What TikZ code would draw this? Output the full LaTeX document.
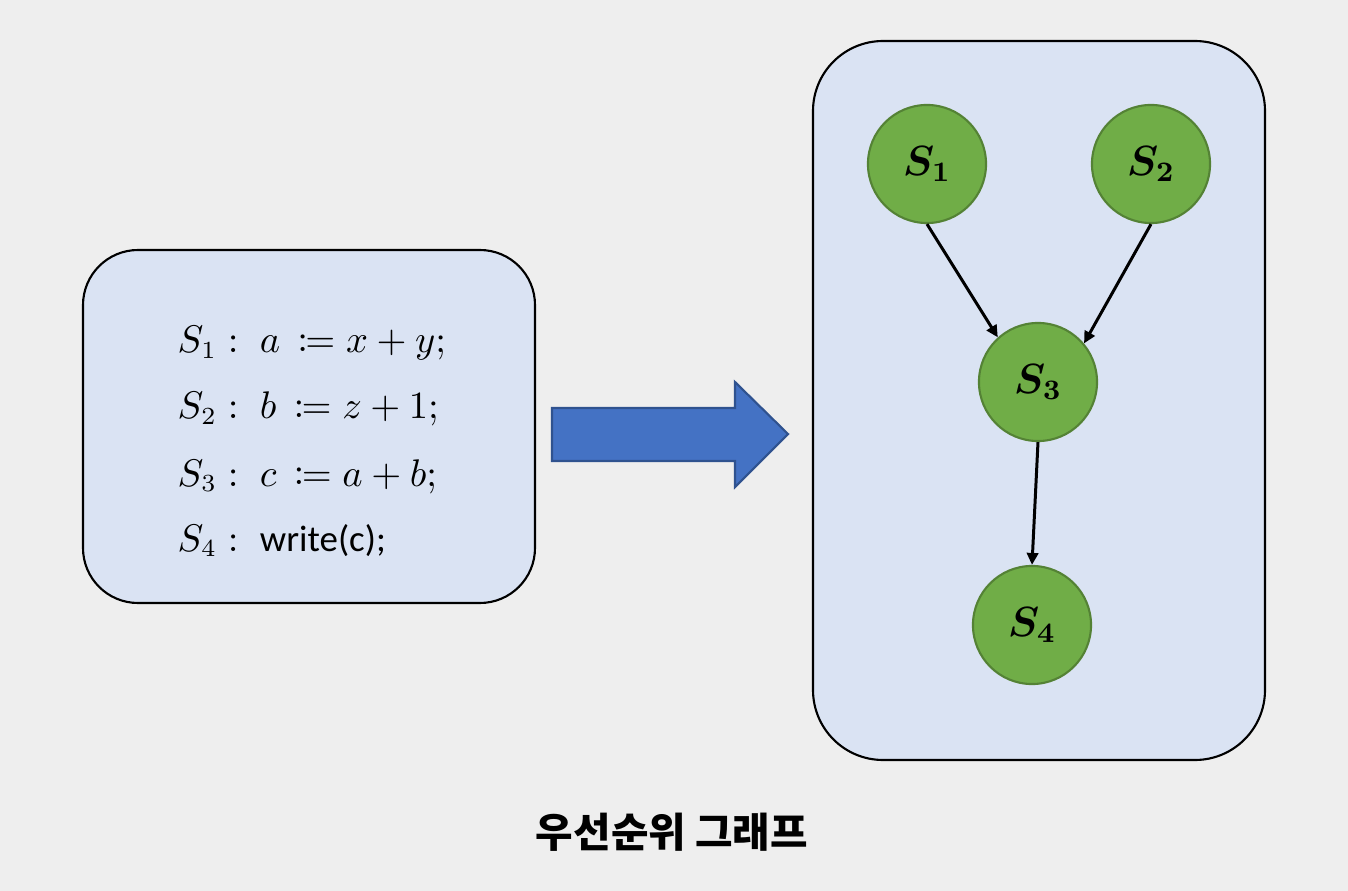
\documentclass[tikz,border=0pt]{standalone}
\usepackage{amsmath}
\usepackage{amssymb}
\usepackage{xcolor}
\usepackage{mathtools}
\usepackage{fontspec}
\setsansfont{Carlito}
\newfontfamily\krfont{Noto Sans CJK KR}
\usepackage{tikz}
\usetikzlibrary{arrows.meta}
\definecolor{bggray}{HTML}{EEEEEE}
\definecolor{panelblue}{HTML}{DAE3F3}
\definecolor{stgreen}{HTML}{70AD47}
\definecolor{stgreenedge}{HTML}{548235}
\definecolor{bigarrow}{HTML}{4472C4}
\definecolor{bigarrowedge}{HTML}{2F528F}
\tikzset{
  panel/.style={draw=black, fill=panelblue, line width=0.6pt},
  stnode/.style={circle, fill=stgreen, draw=stgreenedge, line width=0.6pt, minimum size=1.18cm, inner sep=0pt, font=\fontsize{12}{14}\selectfont},
  stline/.style={anchor=base west, inner sep=0pt, font=\fontsize{10.5}{12}\selectfont},
  dep/.style={line width=0.85pt, -{Triangle[length=3.4pt, width=3.2pt]}}
}

\begin{document}
\begin{tikzpicture}[x=0.01cm, y=-0.01cm]
  \fill[bggray] (0,0) rectangle (1348,891);
  \draw[panel, rounded corners=0.55cm] (83,250) rectangle (535,603);
  \draw[panel, rounded corners=0.7cm] (813,41) rectangle (1265,760);
  \node[stline] (l1) at (177,353) {$S_1\;{:}\;\; a\,\coloneqq x+y;$};
  \node[stline] (l2) at (177,419) {$S_2\;{:}\;\; b\,\coloneqq z+1;$};
  \node[stline] (l3) at (177,486) {$S_3\;{:}\;\; c\,\coloneqq a+b;$};
  \node[stline] (l4) at (177,551) {$S_4\;{:}\;\;$\textsf{write(c);}};
  \draw[fill=bigarrow, draw=bigarrowedge, line width=0.6pt] (552,408) -- (735,408) -- (735,382) -- (788,434) -- (735,487) -- (735,461) -- (552,461) -- cycle;
  \node[stnode] (s1) at (927,164) {$\boldsymbol{S_1}$};
  \node[stnode] (s2) at (1151,164) {$\boldsymbol{S_2}$};
  \node[stnode] (s3) at (1038,382) {$\boldsymbol{S_3}$};
  \node[stnode] (s4) at (1032,625) {$\boldsymbol{S_4}$};
  \draw[dep] (s1.south) -- (s3.132);
  \draw[dep] (s2.south) -- (s3.40);
  \draw[dep] (s3.south) -- (s4.north);
  \node[font=\krfont\bfseries\fontsize{11.6}{13}\selectfont] (title) at (672,832) {우선순위 그래프};
\end{tikzpicture}
\end{document}
